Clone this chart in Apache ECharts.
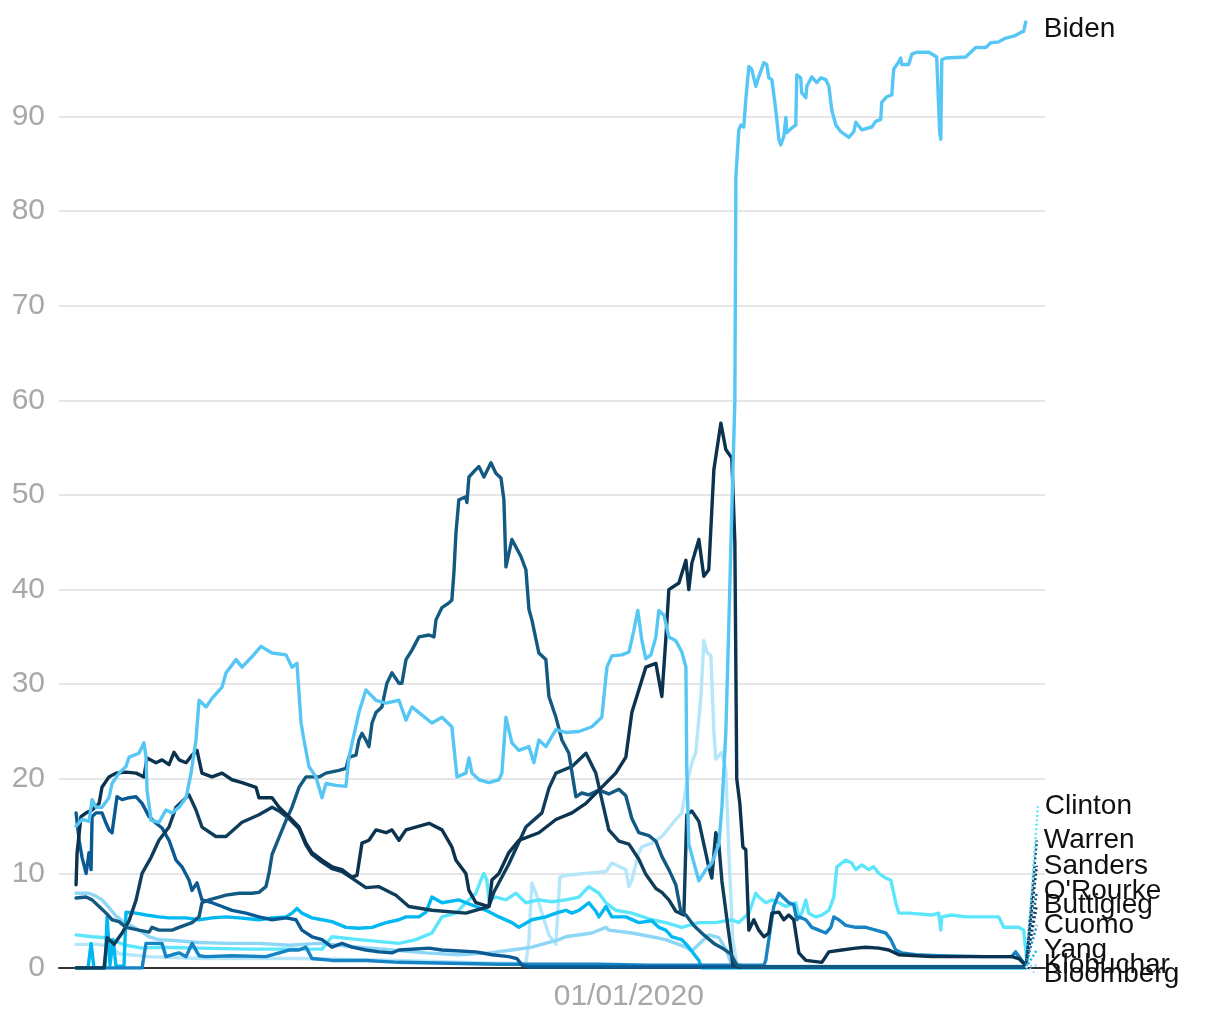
<!DOCTYPE html>
<html>
<head>
<meta charset="utf-8">
<script src="https://cdn.jsdelivr.net/npm/echarts@6/dist/echarts.min.js"></script>
<style>
html,body{margin:0;padding:0;background:#fff;}
#chart{width:1220px;height:1020px;}
</style>
</head>
<body>
<div id="chart"></div>
<script>
// Day offsets are days since 2019-02-11, values in percent.
const biden = [[0,15],[3.5,15.7],[7.6,15.5],[9.4,17.8],[11.7,17],[15.2,17],[19.3,18],[21.1,19.5],[25.2,20.6],[29.3,21.3],[31.1,22.3],[36.9,22.7],[39.8,23.8],[41,22.3],[41.6,18.8],[44,15.6],[48.6,15.4],[52.7,16.7],[56.3,16.4],[60.4,17],[64.5,18],[67.4,20.6],[70.3,24.1],[72.1,28.3],[76.2,27.6],[79.7,28.5],[85.6,29.7],[87.9,31.2],[93.8,32.6],[97.3,31.8],[103.1,32.9],[108.4,34],[114.9,33.3],[123.1,33.1],[126.6,31.8],[129.5,32.2],[131.9,25.9],[133.6,24.1],[136.5,21.3],[140.6,20.2],[144.2,18],[146.5,19.5],[152.4,19.3],[158.2,19.2],[160,22.3],[165.8,27],[169.9,29.4],[175.8,28.3],[181.7,28],[189.3,28.3],[193.4,26.2],[196.9,27.6],[201,27],[208.6,25.9],[214.5,26.5],[220.3,25.5],[223.3,20.2],[228.5,20.6],[230.3,22.2],[232.1,20.6],[236.2,19.9],[242,19.6],[247.9,19.9],[249.6,20.6],[252,26.5],[255.5,23.8],[259.6,23],[265.5,23.4],[268.4,21.7],[271.3,24.1],[275.4,23.4],[281.3,25.2],[287.1,24.9],[294.8,25],[302.4,25.5],[308.2,26.5],[311.2,31.8],[314.1,33],[320,33.1],[324.1,33.4],[327,35.7],[329.3,37.8],[331.7,34.6],[334,32.7],[337,33.1],[339.9,35],[341.6,37.8],[344.6,37.3],[347.5,35],[351.6,34.6],[355.1,33.4],[357.5,31.8],[358,21],[359.2,13.1],[365.1,9.2],[369.2,10.4],[372.7,11.1],[376.8,13.1],[378.6,17],[380.9,24.9],[382.7,36.6],[384.4,48.3],[386.2,60],[386.8,83.7],[388.5,88.6],[389.7,89.1],[391.4,88.9],[392.6,91.8],[394.4,95.3],[396.1,95],[398.5,93.2],[400.2,94.2],[403.2,95.7],[404.9,95.5],[406.1,94.1],[407.9,93.9],[410.2,90.7],[412,87.6],[413.1,87],[414.9,87.9],[416.1,89.9],[416.6,88.3],[419.6,88.8],[421.9,89.1],[422.5,94.4],[424.8,94.1],[425.4,92.5],[427.8,92],[428.4,93.2],[431.3,94.2],[434.2,93.6],[436.6,94.1],[439.5,93.9],[441.3,93.2],[443,90.7],[445.4,89.1],[448.3,88.4],[453,87.8],[455.9,88.4],[457.1,89.4],[460.6,88.6],[466.5,88.9],[468.8,89.5],[471.7,89.7],[472.3,91.5],[475.2,92.1],[478.2,92.3],[479.3,95],[482.3,95.8],[483.4,96.2],[484,95.5],[488.1,95.5],[489.9,96.6],[492.8,96.8],[499.9,96.8],[504.5,96.3],[506.3,88.3],[506.9,87.6],[507.5,96],[509.8,96.2],[521.5,96.3],[527.4,97.3],[533.3,97.3],[536.2,97.8],[540.9,97.9],[545,98.3],[549.7,98.5],[553.8,98.9],[555.5,99],[556.7,100]];

const warren = [[0,7.4],[5.9,7.5],[9.4,7.2],[13.5,6.5],[17.6,5.8],[21.1,5.1],[25.2,4.9],[29.3,4.3],[36.9,4],[42.8,3.8],[44.5,4.3],[48.6,4],[56.3,4],[60.4,4.3],[68,4.8],[72.1,5.4],[73.8,6.9],[77.9,7.2],[83.8,7.5],[87.9,7.7],[95.5,7.9],[103.1,7.9],[107.2,8],[111.3,8.6],[113.1,10],[114.9,12],[119,13.8],[123.1,15.6],[126.6,17],[130.7,19.1],[134.8,20.2],[142.4,20.2],[146.5,20.6],[154.1,20.9],[158.2,21.1],[160,22.3],[164.1,22.5],[165.8,24.1],[167.6,24.8],[169.9,24.1],[171.7,23.4],[173.5,25.9],[175.8,27],[179.3,27.6],[182.2,30.1],[185.2,31.2],[189.3,30.1],[191,30.1],[193.4,32.6],[196.9,33.6],[201,35],[206.9,35.2],[209.8,35],[211,36.8],[214.5,38.1],[218.6,38.6],[220.3,38.9],[221.5,41.8],[222.7,46],[224.4,49.5],[228.5,49.8],[229.1,49.2],[230.3,51.9],[234.4,52.7],[236.2,53],[239.1,51.9],[243.2,53.4],[246.1,52.3],[249.1,51.8],[250.8,49.5],[252,42.4],[255.5,45.3],[260.8,43.5],[263.7,42.1],[265.5,37.9],[267.2,36.8],[271.3,33.3],[275.4,32.6],[277.2,28.7],[281.3,26.5],[284.8,24.1],[288.9,22.7],[293,18.1],[296.5,18.5],[300.6,18.3],[306.5,18.8],[312.3,18.4],[318.2,18.9],[322.3,18.2],[325.8,15.8],[329.9,14.3],[335.8,14],[339.9,13.4],[343.4,11.8],[347.5,10.4],[351.6,8.8],[354.5,6],[357.5,5.6],[362.1,4.5],[368,3.5],[373.9,2.6],[379.7,2],[383.8,1.5],[387.3,0.3],[391.4,0.1],[556.7,0.1]];

const sanders = [[0,8.8],[0.6,12.2],[2.9,16],[5.9,16.4],[9.4,16.7],[13.5,17.4],[15.2,19.1],[19.3,20.2],[23.4,20.6],[29.3,20.7],[35.2,20.6],[39.8,20.2],[41.6,22.2],[46.9,21.7],[50.4,22],[54.5,21.5],[57.4,22.8],[60.4,22],[64.5,21.7],[68,22.5],[70.9,23],[73.8,20.6],[79.7,20.2],[85.6,20.6],[91.4,19.9],[97.3,19.6],[105.5,19.1],[107.2,18],[114.9,18],[119,17],[124.8,16],[130.7,14.9],[134.8,13.2],[138.3,12.2],[144.2,11.4],[150,10.7],[155.9,10.4],[161.7,9.6],[164.7,9.8],[167.6,13.2],[171.7,13.5],[175.8,14.6],[181.7,14.3],[185.2,14.6],[189.3,13.5],[193.4,14.6],[206.9,15.3],[214.5,14.6],[220.3,12.8],[222.7,11.4],[228.5,10],[230.3,8.2],[234.4,6.9],[242,6.5],[243.8,9.3],[247.9,10],[253.7,12.2],[259.6,13.5],[271.3,14.3],[281.3,15.7],[290.7,16.4],[298.9,17.4],[306.5,18.8],[316.4,20.6],[322.3,22.3],[325.8,27],[334,31.8],[339.9,32.2],[343.4,28.7],[345.7,34.7],[347.5,40],[353.4,40.7],[357.5,43.1],[359.2,40],[361,42.8],[365.1,45.3],[368,41.4],[370.9,42.1],[373.9,52.7],[378,57.6],[380.9,54.8],[384.4,53.9],[386.2,45],[387.3,20],[389.1,17.4],[390.9,12.8],[392.6,12.5],[394.4,4],[397.3,5.1],[400.2,4],[403.2,3.3],[406.1,3.7],[407.9,5.8],[412,5.9],[414.9,5.1],[417.8,5.6],[420.7,5.1],[423.7,1.6],[427.8,0.8],[437.2,0.6],[441.3,1.7],[448.9,1.9],[457.1,2.1],[462.9,2.2],[470.6,2.1],[476.4,1.9],[482.3,1.4],[501.6,1.2],[548.5,1.2],[552.6,1],[556.7,0.3]];

const buttigieg = [[0,0],[16.4,0],[18.2,3.2],[22.3,2.5],[27,3.7],[31.1,5],[35.2,7.2],[38.7,10],[44,11.7],[48.6,13.5],[54.5,14.9],[58.6,17],[66.2,18.3],[70.3,16.7],[73.8,14.9],[82,13.9],[87.9,13.9],[97.3,15.4],[107.2,16.2],[114.9,17],[119,16.6],[124.8,15.8],[130.7,14.7],[134.8,13],[138.3,12],[144.2,11.2],[150,10.5],[155.9,10.2],[161.7,9.5],[169.9,8.5],[177.6,8.6],[187.5,7.7],[195.1,6.5],[208.6,6.1],[228.5,5.8],[236.2,6.2],[242,6.5],[244.9,8],[253.7,11],[263.7,14.9],[273.1,16.4],[277.2,19],[281.3,20.6],[290.7,21.3],[298.9,22.7],[304.7,20.6],[308.2,17.8],[312.3,14.6],[318.2,13.4],[324.1,13.1],[329.9,11.5],[334,9.9],[339.9,8.4],[343.4,8],[347.5,7.2],[351.6,6],[356.3,5.6],[358,16.2],[361,16.6],[365.1,15.5],[368,13.1],[370.9,10.7],[372.7,9.5],[375,14.3],[376.8,13.1],[378.6,9.2],[381.5,5.2],[383.8,2.1],[385,0.3],[388.5,0.1],[556.7,0.1]];

const orourke = [[0,16.4],[1.8,13.5],[3.5,11.7],[5.9,10],[7.6,12.2],[8.8,10.4],[9.4,16],[11.7,16.4],[15.2,16.4],[17.6,15.3],[19.3,14.6],[21.1,14.3],[24,18.1],[27,17.8],[31.1,18],[35.2,18.1],[38.7,17.4],[42.8,16],[46.9,15.3],[50.4,14.8],[54.5,13.5],[58.6,11.4],[62.1,10.7],[66.2,9.3],[68,8.2],[70.9,9],[73.8,7.2],[79.7,6.9],[85.6,6.5],[91.4,6.1],[99.6,5.8],[107.2,5.4],[114.9,5.1],[123.1,5.3],[128.9,5.1],[132.4,4],[138.3,3.3],[144.2,3],[150,2.2],[155.9,2.6],[161.7,2.2],[169.9,1.9],[177.6,1.7],[185.2,1.6],[189.3,1.9],[206.9,2.1],[214.5,1.9],[234.4,1.7],[243.8,1.4],[253.7,1.2],[258.4,1],[261.4,0.3],[265.5,0.1],[556.7,0.1]];

const yang = [[0,0],[7,0],[8.8,2.6],[10.5,0],[17,0],[18.2,5.4],[19.9,0.3],[21.7,3],[23.4,0.2],[28.1,0.2],[29.3,5.9],[35.2,5.8],[41,5.6],[48.6,5.4],[54.5,5.3],[64.5,5.3],[72.1,5.1],[79.7,5.3],[87.9,5.4],[95.5,5.3],[107.2,5.1],[114.9,5.3],[123.1,5.4],[126.6,5.8],[129.5,6.3],[132.4,5.8],[138.3,5.3],[144.2,5.1],[150,4.9],[158.2,4.3],[165.8,4.2],[173.5,4.3],[181.7,4.8],[189.3,5.1],[193.4,5.4],[201,5.4],[205.1,5.9],[208.6,7.5],[214.5,6.9],[224.4,7.2],[228.5,6.9],[234.4,6.5],[240.3,6.1],[247.9,5.4],[255.5,4.8],[259.6,4.3],[267.2,5.1],[275.4,5.4],[281.3,5.8],[287.1,6.1],[290.7,5.8],[294.8,6.1],[300.6,6.9],[304.7,6],[306.5,5.4],[310.6,6.5],[314.1,5.4],[322.3,5.4],[329.9,4.8],[337.5,5],[341.6,4.3],[345.7,4],[349.3,3.3],[355.1,3],[359.2,2.2],[365.1,0.8],[366.8,0],[556.7,0]];

const clinton = [[0,3.5],[9.4,3.3],[17.6,3.2],[29.3,2.4],[38.7,2.1],[48.6,2.2],[72.1,2.1],[101.4,2],[130.7,2],[144.2,2],[150,3.3],[165.8,3],[189.3,2.6],[199.2,3],[208.6,3.7],[214.5,5.4],[222.7,5.8],[228.5,6.9],[234.4,7.9],[237.3,9.3],[239.1,10],[240.8,9.3],[242,7.2],[246.1,7.5],[252,7.2],[257.8,7.9],[263.7,6.9],[271.3,7.2],[278.9,7],[287.1,7.2],[294.8,7.5],[300.6,8.6],[306.5,7.9],[310.6,6.9],[316.4,6.1],[325.8,5.8],[337.5,5.1],[345.7,4.8],[355.1,4.3],[365.1,4.8],[375,4.8],[384.4,5.1],[388.5,4.8],[394.4,5.8],[398.5,7.9],[400.2,7.5],[404.3,6.9],[407.9,7.2],[412,6.9],[416.1,6.5],[421.9,6.9],[423.7,5.4],[425.4,5.8],[427.8,7.2],[429.5,5.8],[433.6,5.4],[437.2,5.6],[441.3,6.1],[444.2,7.5],[446,10.7],[451.2,11.4],[454.7,11.1],[457.1,10.4],[460.6,10.9],[464.7,10.4],[467.6,10.7],[470.6,10],[474.7,9.5],[477.6,9.3],[480.5,6.9],[482.3,5.8],[488.1,5.8],[501.6,5.6],[505.7,5.8],[506.9,4],[507.5,5.4],[513.3,5.6],[521.5,5.4],[540.9,5.4],[543.8,4.3],[552.6,4.3],[555.5,4],[557.3,0.8]];

const klobuchar = [[0,7.9],[7.6,7.9],[11.7,7.6],[15.2,7.2],[19.3,6.4],[23.4,5.5],[27,5],[31.1,4.6],[36.9,4],[42.8,3.3],[48.6,3],[57.4,2.9],[72.1,2.7],[89.7,2.6],[107.2,2.6],[124.8,2.4],[142.4,2.6],[154.1,2.4],[165.8,2.2],[185.2,1.9],[205.1,1.6],[224.4,1.4],[242,1.6],[255.5,1.9],[267.2,2.2],[283,3],[287.1,3.3],[302.4,3.7],[310.6,4.3],[312.3,4],[325.8,3.7],[337.5,3.3],[345.7,3],[357.5,2.2],[361,1.8],[365.1,2.5],[370.9,3.5],[376.8,3.2],[380.9,2],[384.4,0.3],[388.5,0.1],[556.7,0.1]];

const bloomberg = [[0,2.5],[13.5,2.5],[21.1,2.2],[25.2,1.5],[42.8,1.2],[72.1,1],[130.7,1],[189.3,0.8],[224.4,0.6],[247.9,0.5],[263.7,0.5],[265.5,3],[267.2,9],[269.6,7.9],[273.1,5.8],[277.2,3.5],[281.3,2.5],[283.6,9.6],[287.1,9.8],[298.9,10],[310.6,10.2],[314.1,11.1],[322.3,10.4],[324.1,8.6],[325.8,9.3],[329.9,12.2],[331.7,12.8],[337.5,13.2],[343.4,13.9],[351.6,15.7],[355.1,16.4],[358,19.5],[361,21.7],[363.3,22.8],[366.3,28.7],[368,34.6],[369.8,33.4],[372.1,33],[373.9,24.9],[375,22.1],[378.6,22.8],[380.9,20.9],[382.7,12],[385,3],[387.3,0.5],[391.4,0.2],[556.7,0.2]];

const cuomo = [[0,0],[38.7,0],[41,2.6],[50.4,2.6],[52.7,1.2],[56.3,1.4],[60.4,1.6],[64.5,1.2],[68,2.6],[72.1,1.3],[76.2,1.2],[91.4,1.3],[111.3,1.2],[124.8,1.9],[130.7,1.9],[134.8,2.2],[138.3,1],[150,0.8],[169.9,0.8],[189.3,0.6],[218.6,0.5],[247.9,0.4],[277.2,0.4],[306.5,0.4],[335.8,0.3],[365.1,0.3],[394.4,0.3],[403.2,0.3],[404.3,0.8],[406.1,3],[409,6.5],[412,7.9],[414.9,7.4],[417.8,6.9],[420.7,6.7],[422.5,5.1],[423.7,5.4],[427.8,5.1],[431.3,4.3],[435.4,4],[439.5,3.7],[442.5,4.3],[444.2,5.4],[447.1,5.1],[451.2,4.5],[457.1,4.3],[462.9,4.3],[468.8,4],[474.7,3.7],[477.6,3],[480.5,1.9],[484,1.6],[492.2,1.4],[505.7,1.3],[533.3,1.2],[548.5,1.2],[550.8,1.7],[554.4,0.8],[556.7,0.3]];

// Drawing order (first drawn at the bottom)
const names  = ['Bloomberg','Klobuchar','Clinton','Yang','Cuomo',"O'Rourke",'Buttigieg','Warren','Sanders','Biden'];
const values = [bloomberg, klobuchar, clinton, yang, cuomo, orourke, buttigieg, warren, sanders, biden];
const colors = ['#b5e6fa','#8ed6f6','#5ce6fc','#00b8f2','#1683c4','#0a5a94','#0f3d5c','#135a82','#0b324f','#56c7f5'];

// End-label value positions for the non-Biden names (leader lines)
const labelNames  = ['Clinton','Warren','Sanders',"O'Rourke",'Buttigieg','Cuomo','Yang','Klobuchar','Bloomberg'];
const labelValues = [17.1, 13.5, 10.8, 8.1, 6.6, 4.5, 1.9, 0.3, -0.7];

const xTickDates  = ['2020-01-01'];
const xTickLabels = ['01/01/2020'];

const DAY = 86400000;
const START = Date.UTC(2019, 1, 11);
const toTime = arr => arr.map(p => [START + p[0] * DAY, p[1]]);
const tickTimes = xTickDates.map(s => Date.parse(s + 'T00:00:00Z'));

const FONT = 'Liberation Sans, Arial, sans-serif';

const series = [];
names.forEach((n, i) => {
  const s = {
    name: n,
    type: 'line',
    data: toTime(values[i]),
    showSymbol: false,
    symbol: 'none',
    lineStyle: { color: colors[i], width: 3.4, join: 'round', cap: 'round' },
    itemStyle: { color: colors[i] },
    emphasis: { disabled: true },
    silent: true,
    z: 2 + i
  };
  if (n === 'Biden') {
    s.endLabel = { show: true, formatter: n, color: '#111', fontSize: 28, fontFamily: FONT, distance: 18, offset: [0, 7] };
  }
  series.push(s);
});

labelNames.forEach((n, j) => {
  const i = names.indexOf(n);
  const arr = values[i];
  const last = arr[arr.length - 1];
  series.push({
    name: n + '-label',
    type: 'line',
    data: toTime([last, [last[0] + 6.5, labelValues[j]]]),
    showSymbol: false,
    symbol: 'none',
    clip: false,
    lineStyle: { color: colors[i], width: 2.5, type: [2, 2.5] },
    emphasis: { disabled: true },
    silent: true,
    z: 20,
    endLabel: { show: true, formatter: n, color: '#111', fontSize: 28, fontFamily: FONT, distance: 7 }
  });
});

const chart = echarts.init(document.getElementById('chart'), null, { renderer: 'canvas' });
chart.setOption({
  animation: false,
  backgroundColor: '#ffffff',
  grid: { left: 59, right: 175, top: 22, bottom: 52, containLabel: false },
  xAxis: {
    type: 'value',
    min: Date.UTC(2019, 1, 1),
    max: Date.UTC(2020, 8, 1),
    axisLine: { show: true, onZero: false, lineStyle: { color: '#333', width: 2 } },
    axisTick: { show: false },
    splitLine: { show: false },
    axisLabel: {
      customValues: tickTimes,
      formatter: v => { const k = tickTimes.indexOf(v); return k >= 0 ? xTickLabels[k] : ''; },
      color: '#a8a8a8', fontSize: 30, fontFamily: FONT, margin: 14
    }
  },
  yAxis: {
    type: 'value',
    min: 0, max: 100, interval: 10,
    axisLine: { show: false },
    axisTick: { show: false },
    splitLine: { show: true, showMaxLine: false, lineStyle: { color: '#e6e6e6', width: 2 } },
    axisLabel: { showMaxLabel: false, color: '#a8a8a8', fontSize: 30, fontFamily: FONT, margin: 14 }
  },
  series: series
});
</script>
</body>
</html>
